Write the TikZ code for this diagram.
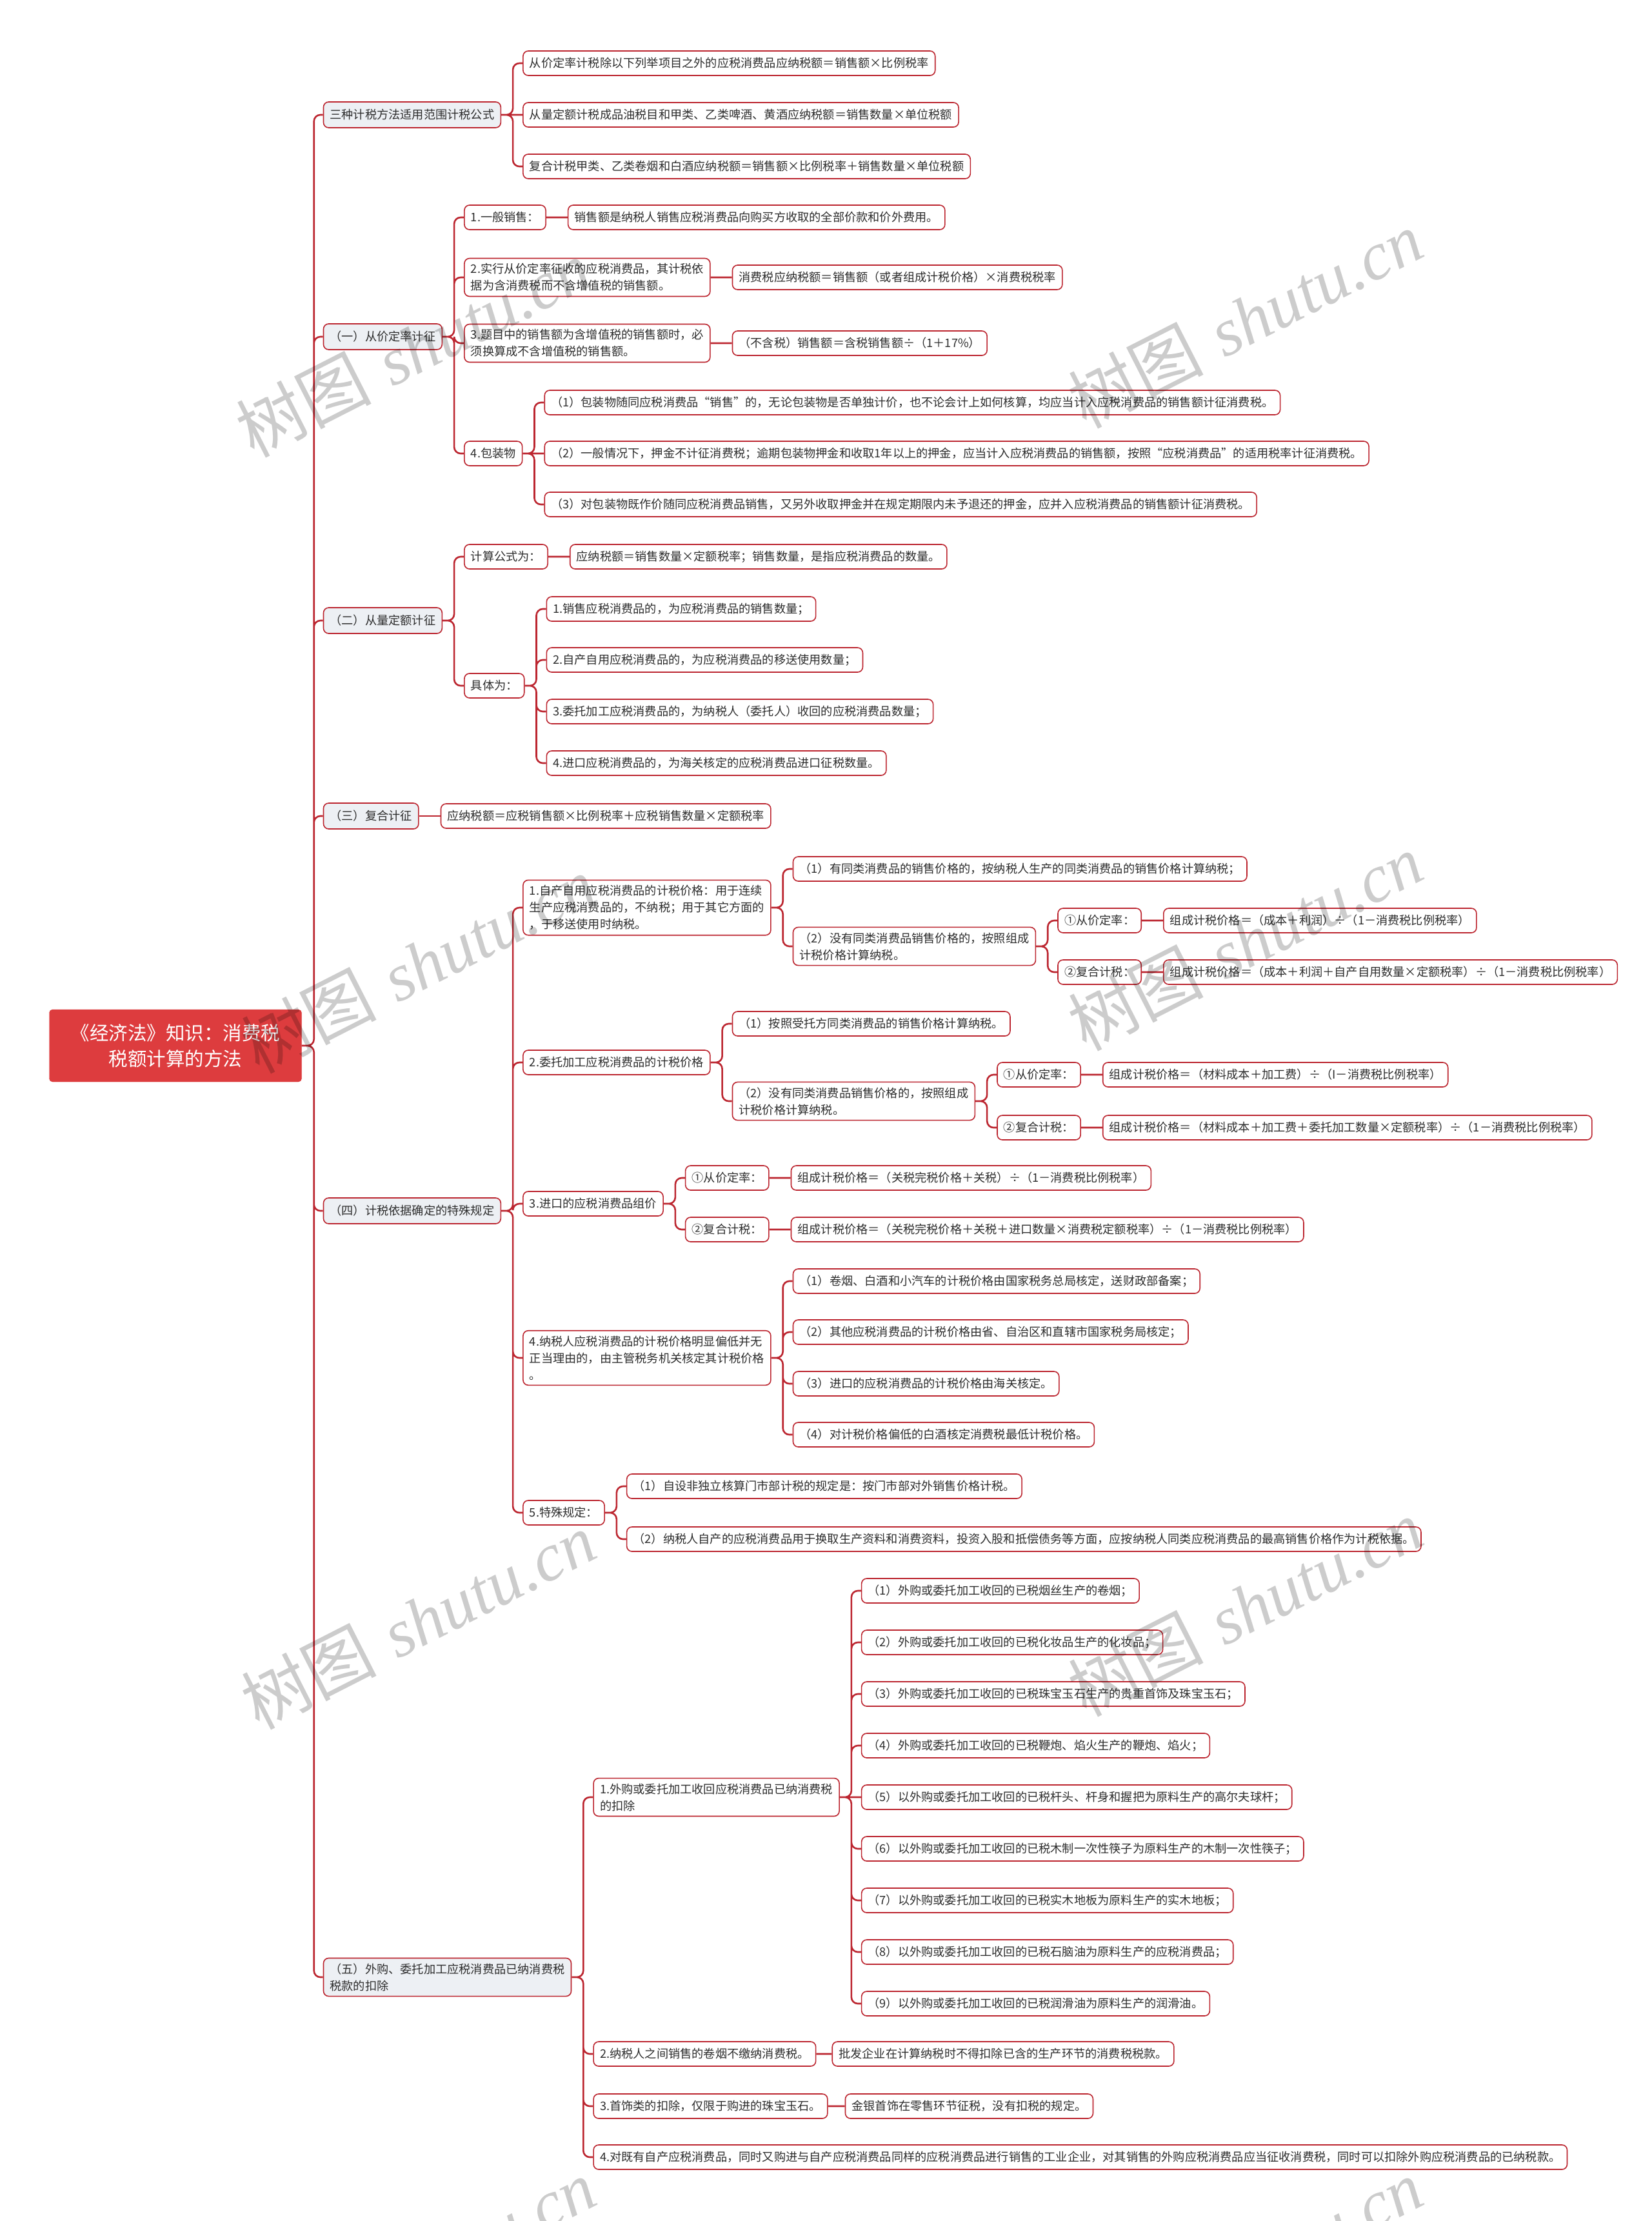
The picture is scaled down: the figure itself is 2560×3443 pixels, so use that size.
\documentclass[tikz,border=0pt]{standalone}
\usepackage{fontspec}
\usepackage{tikz}
\usetikzlibrary{positioning}

\newfontfamily\cjk{Noto Sans CJK SC}
\newfontfamily\wmfont{Liberation Serif}

\definecolor{branchred}{RGB}{188,38,48}
\definecolor{rootred}{RGB}{221,60,62}
\definecolor{topicgray}{RGB}{237,240,244}
\definecolor{textgray}{RGB}{45,45,45}

\begin{document}
\begin{tikzpicture}[
    x=1pt, y=-1pt,
    node distance=33pt,
    every node/.style={font=\cjk\fontsize{18.2}{26}\selectfont, text=textgray},
    root/.style={draw=rootred, fill=rootred, text=white, rounded corners=5pt, align=center,
        minimum width=391pt, minimum height=112pt, font=\cjk\fontsize{29.5}{40}\selectfont},
    topic/.style={draw=branchred, fill=topicgray, line width=1.6pt, rounded corners=8pt,
        align=left, inner xsep=10pt, inner ysep=8pt, minimum height=40pt},
    item/.style={draw=branchred, fill=white, line width=1.6pt, rounded corners=8pt,
        align=left, inner xsep=10pt, inner ysep=8pt, minimum height=38pt},
    link/.style={draw=branchred, line width=2.6pt, rounded corners=10pt},
    wmark/.style={text=black, text opacity=0.2, rotate=27, font=\fontsize{105}{105}\selectfont}
]
    \fill[white] (0,0) rectangle (2560,3443);
    \useasboundingbox (0,0) rectangle (2560,3443);

    % root and main branches
    \node[root] (law) at (272,1621) {《经济法》知识：消费税\\税额计算的方法};
    \node[topic, right=of law, yshift=1443pt] (formula) {三种计税方法适用范围计税公式};
    \node[topic, right=of law, yshift=1099pt] (advalorem) {（一）从价定率计征};
    \node[topic, right=of law, yshift=659pt] (specific) {（二）从量定额计征};
    \node[topic, right=of law, yshift=356pt] (compound) {（三）复合计征};
    \node[topic, right=of law, yshift=-256pt] (special) {（四）计税依据确定的特殊规定};
    \node[topic, right=of law, yshift=-1444pt] (deduct) {（五）外购、委托加工应税消费品已纳消费税\\税款的扣除};

    \draw[link] (law.east) -- ++(19,0) |- (formula.west)
        (law.east) -- ++(19,0) |- (advalorem.west)
        (law.east) -- ++(19,0) |- (specific.west)
        (law.east) -- ++(19,0) |- (compound.west)
        (law.east) -- ++(19,0) |- (special.west)
        (law.east) -- ++(19,0) |- (deduct.west);

    % three formulas
    \node[item, right=of formula, yshift=80pt] (fAd) {从价定率计税除以下列举项目之外的应税消费品应纳税额＝销售额×比例税率};
    \node[item, right=of formula] (fSp) {从量定额计税成品油税目和甲类、乙类啤酒、黄酒应纳税额＝销售数量×单位税额};
    \node[item, right=of formula, yshift=-80pt] (fCo) {复合计税甲类、乙类卷烟和白酒应纳税额＝销售额×比例税率＋销售数量×单位税额};
    \draw[link] (formula.east) -- ++(18,0) |- (fAd.west)
        (formula.east) -- ++(18,0) |- (fCo.west)
        (formula) -- (fSp);

    % (一)
    \node[item, right=of advalorem, yshift=185pt] (sale) {1.一般销售：};
    \node[item, right=of sale] (saleT) {销售额是纳税人销售应税消费品向购买方收取的全部价款和价外费用。};
    \node[item, right=of advalorem, yshift=92pt] (basis) {2.实行从价定率征收的应税消费品，其计税依\\据为含消费税而不含增值税的销售额。};
    \node[item, right=of basis] (basisT) {消费税应纳税额＝销售额（或者组成计税价格）×消费税税率};
    \node[item, right=of advalorem, yshift=-10pt] (gross) {3.题目中的销售额为含增值税的销售额时，必\\须换算成不含增值税的销售额。};
    \node[item, right=of gross] (grossT) {（不含税）销售额＝含税销售额÷（1＋17\%）};
    \node[item, right=of advalorem, yshift=-181pt] (pack) {4.包装物};
    \node[item, right=of pack, yshift=79pt] (packA) {（1）包装物随同应税消费品“销售”的，无论包装物是否单独计价，也不论会计上如何核算，均应当计入应税消费品的销售额计征消费税。};
    \node[item, right=of pack] (packB) {（2）一般情况下，押金不计征消费税；逾期包装物押金和收取1年以上的押金，应当计入应税消费品的销售额，按照“应税消费品”的适用税率计征消费税。};
    \node[item, right=of pack, yshift=-79pt] (packC) {（3）对包装物既作价随同应税消费品销售，又另外收取押金并在规定期限内未予退还的押金，应并入应税消费品的销售额计征消费税。};
    \draw[link] (advalorem.east) -- ++(18,0) |- (sale.west)
        (advalorem.east) -- ++(18,0) |- (basis.west)
        (advalorem.east) -- ++(18,0) |- (gross.west)
        (advalorem.east) -- ++(18,0) |- (pack.west)
        (sale) -- (saleT) (basis) -- (basisT) (gross) -- (grossT)
        (pack.east) -- ++(18,0) |- (packA.west)
        (pack.east) -- ++(18,0) |- (packC.west)
        (pack) -- (packB);

    % (二)
    \node[item, right=of specific, yshift=99pt] (calc) {计算公式为：};
    \node[item, right=of calc] (calcT) {应纳税额＝销售数量×定额税率；销售数量，是指应税消费品的数量。};
    \node[item, right=of specific, yshift=-101pt] (detail) {具体为：};
    \node[item, right=of detail, yshift=119pt] (detA) {1.销售应税消费品的，为应税消费品的销售数量；};
    \node[item, right=of detail, yshift=40pt] (detB) {2.自产自用应税消费品的，为应税消费品的移送使用数量；};
    \node[item, right=of detail, yshift=-40pt] (detC) {3.委托加工应税消费品的，为纳税人（委托人）收回的应税消费品数量；};
    \node[item, right=of detail, yshift=-120pt] (detD) {4.进口应税消费品的，为海关核定的应税消费品进口征税数量。};
    \draw[link] (specific.east) -- ++(18,0) |- (calc.west)
        (specific.east) -- ++(18,0) |- (detail.west)
        (calc) -- (calcT)
        (detail.east) -- ++(18,0) |- (detA.west)
        (detail.east) -- ++(18,0) |- (detB.west)
        (detail.east) -- ++(18,0) |- (detC.west)
        (detail.east) -- ++(18,0) |- (detD.west);

    % (三)
    \node[item, right=of compound] (compT) {应纳税额＝应税销售额×比例税率＋应税销售数量×定额税率};
    \draw[link] (compound) -- (compT);

    % (四)
    \node[item, right=of special, yshift=470pt] (self) {1.自产自用应税消费品的计税价格：用于连续\\生产应税消费品的，不纳税；用于其它方面的\\，于移送使用时纳税。};
    \node[item, right=of self, yshift=60pt] (selfA) {（1）有同类消费品的销售价格的，按纳税人生产的同类消费品的销售价格计算纳税；};
    \node[item, right=of self, yshift=-60pt] (selfB) {（2）没有同类消费品销售价格的，按照组成\\计税价格计算纳税。};
    \node[item, right=of selfB, yshift=40pt] (selfBa) {①从价定率：};
    \node[item, right=of selfBa] (selfBaT) {组成计税价格＝（成本＋利润）÷（1－消费税比例税率）};
    \node[item, right=of selfB, yshift=-40pt] (selfBb) {②复合计税：};
    \node[item, right=of selfBb] (selfBbT) {组成计税价格＝（成本＋利润＋自产自用数量×定额税率）÷（1－消费税比例税率）};

    \node[item, right=of special, yshift=230pt] (entr) {2.委托加工应税消费品的计税价格};
    \node[item, right=of entr, yshift=60pt] (entrA) {（1）按照受托方同类消费品的销售价格计算纳税。};
    \node[item, right=of entr, yshift=-60pt] (entrB) {（2）没有同类消费品销售价格的，按照组成\\计税价格计算纳税。};
    \node[item, right=of entrB, yshift=41pt] (entrBa) {①从价定率：};
    \node[item, right=of entrBa] (entrBaT) {组成计税价格＝（材料成本＋加工费）÷（I－消费税比例税率）};
    \node[item, right=of entrB, yshift=-41pt] (entrBb) {②复合计税：};
    \node[item, right=of entrBb] (entrBbT) {组成计税价格＝（材料成本＋加工费＋委托加工数量×定额税率）÷（1－消费税比例税率）};

    \node[item, right=of special, yshift=11pt] (imp) {3.进口的应税消费品组价};
    \node[item, right=of imp, yshift=40pt] (impA) {①从价定率：};
    \node[item, right=of impA] (impAT) {组成计税价格＝（关税完税价格＋关税）÷（1－消费税比例税率）};
    \node[item, right=of imp, yshift=-40pt] (impB) {②复合计税：};
    \node[item, right=of impB] (impBT) {组成计税价格＝（关税完税价格＋关税＋进口数量×消费税定额税率）÷（1－消费税比例税率）};

    \node[item, right=of special, yshift=-228pt] (low) {4.纳税人应税消费品的计税价格明显偏低并无\\正当理由的，由主管税务机关核定其计税价格\\。};
    \node[item, right=of low, yshift=119pt] (lowA) {（1）卷烟、白酒和小汽车的计税价格由国家税务总局核定，送财政部备案；};
    \node[item, right=of low, yshift=40pt] (lowB) {（2）其他应税消费品的计税价格由省、自治区和直辖市国家税务局核定；};
    \node[item, right=of low, yshift=-40pt] (lowC) {（3）进口的应税消费品的计税价格由海关核定。};
    \node[item, right=of low, yshift=-119pt] (lowD) {（4）对计税价格偏低的白酒核定消费税最低计税价格。};

    \node[item, right=of special, yshift=-468pt] (rule) {5.特殊规定：};
    \node[item, right=of rule, yshift=41pt] (ruleA) {（1）自设非独立核算门市部计税的规定是：按门市部对外销售价格计税。};
    \node[item, right=of rule, yshift=-41pt] (ruleB) {（2）纳税人自产的应税消费品用于换取生产资料和消费资料，投资入股和抵偿债务等方面，应按纳税人同类应税消费品的最高销售价格作为计税依据。};

    \draw[link] (special.east) -- ++(18,0) |- (self.west)
        (special.east) -- ++(18,0) |- (entr.west)
        (special.east) -- ++(18,0) |- (imp.west)
        (special.east) -- ++(18,0) |- (low.west)
        (special.east) -- ++(18,0) |- (rule.west)
        (self.east) -- ++(18,0) |- (selfA.west)
        (self.east) -- ++(18,0) |- (selfB.west)
        (selfB.east) -- ++(18,0) |- (selfBa.west)
        (selfB.east) -- ++(18,0) |- (selfBb.west)
        (selfBa) -- (selfBaT) (selfBb) -- (selfBbT)
        (entr.east) -- ++(18,0) |- (entrA.west)
        (entr.east) -- ++(18,0) |- (entrB.west)
        (entrB.east) -- ++(18,0) |- (entrBa.west)
        (entrB.east) -- ++(18,0) |- (entrBb.west)
        (entrBa) -- (entrBaT) (entrBb) -- (entrBbT)
        (imp.east) -- ++(18,0) |- (impA.west)
        (imp.east) -- ++(18,0) |- (impB.west)
        (impA) -- (impAT) (impB) -- (impBT)
        (low.east) -- ++(18,0) |- (lowA.west)
        (low.east) -- ++(18,0) |- (lowB.west)
        (low.east) -- ++(18,0) |- (lowC.west)
        (low.east) -- ++(18,0) |- (lowD.west)
        (rule.east) -- ++(18,0) |- (ruleA.west)
        (rule.east) -- ++(18,0) |- (ruleB.west);

    % (五)
    \node[item, right=of deduct, yshift=279pt] (buy) {1.外购或委托加工收回应税消费品已纳消费税\\的扣除};
    \node[item, right=of buy, yshift=320pt] (buyA) {（1）外购或委托加工收回的已税烟丝生产的卷烟；};
    \node[item, right=of buy, yshift=240pt] (buyB) {（2）外购或委托加工收回的已税化妆品生产的化妆品；};
    \node[item, right=of buy, yshift=160pt] (buyC) {（3）外购或委托加工收回的已税珠宝玉石生产的贵重首饰及珠宝玉石；};
    \node[item, right=of buy, yshift=80pt] (buyD) {（4）外购或委托加工收回的已税鞭炮、焰火生产的鞭炮、焰火；};
    \node[item, right=of buy] (buyE) {（5）以外购或委托加工收回的已税杆头、杆身和握把为原料生产的高尔夫球杆；};
    \node[item, right=of buy, yshift=-80pt] (buyF) {（6）以外购或委托加工收回的已税木制一次性筷子为原料生产的木制一次性筷子；};
    \node[item, right=of buy, yshift=-160pt] (buyG) {（7）以外购或委托加工收回的已税实木地板为原料生产的实木地板；};
    \node[item, right=of buy, yshift=-240pt] (buyH) {（8）以外购或委托加工收回的已税石脑油为原料生产的应税消费品；};
    \node[item, right=of buy, yshift=-320pt] (buyI) {（9）以外购或委托加工收回的已税润滑油为原料生产的润滑油。};
    \node[item, right=of deduct, yshift=-119pt] (cig) {2.纳税人之间销售的卷烟不缴纳消费税。};
    \node[item, right=24pt of cig] (cigT) {批发企业在计算纳税时不得扣除已含的生产环节的消费税税款。};
    \node[item, right=of deduct, yshift=-200pt] (jew) {3.首饰类的扣除，仅限于购进的珠宝玉石。};
    \node[item, right=26pt of jew] (jewT) {金银首饰在零售环节征税，没有扣税的规定。};
    \node[item, right=of deduct, yshift=-279pt] (ind) {4.对既有自产应税消费品，同时又购进与自产应税消费品同样的应税消费品进行销售的工业企业，对其销售的外购应税消费品应当征收消费税，同时可以扣除外购应税消费品的已纳税款。};

    \draw[link] (deduct.east) -- ++(18,0) |- (buy.west)
        (deduct.east) -- ++(18,0) |- (cig.west)
        (deduct.east) -- ++(18,0) |- (jew.west)
        (deduct.east) -- ++(18,0) |- (ind.west)
        (cig) -- (cigT) (jew) -- (jewT)
        (buy.east) -- ++(18,0) |- (buyA.west)
        (buy.east) -- ++(18,0) |- (buyB.west)
        (buy.east) -- ++(18,0) |- (buyC.west)
        (buy.east) -- ++(18,0) |- (buyD.west)
        (buy) -- (buyE)
        (buy.east) -- ++(18,0) |- (buyF.west)
        (buy.east) -- ++(18,0) |- (buyG.west)
        (buy.east) -- ++(18,0) |- (buyH.west)
        (buy.east) -- ++(18,0) |- (buyI.west);

    % watermark
    \node[wmark] (wmA) at (640,540) {{\cjk 树图} {\wmfont\itshape shutu.cn}};
    \node[wmark] (wmB) at (1930,495) {{\cjk 树图} {\wmfont\itshape shutu.cn}};
    \node[wmark] (wmC) at (648,1495) {{\cjk 树图} {\wmfont\itshape shutu.cn}};
    \node[wmark] (wmD) at (1930,1460) {{\cjk 树图} {\wmfont\itshape shutu.cn}};
    \node[wmark] (wmE) at (648,2512) {{\cjk 树图} {\wmfont\itshape shutu.cn}};
    \node[wmark] (wmF) at (1930,2492) {{\cjk 树图} {\wmfont\itshape shutu.cn}};
    \node[wmark] (wmG) at (648,3515) {{\cjk 树图} {\wmfont\itshape shutu.cn}};
    \node[wmark] (wmH) at (1930,3515) {{\cjk 树图} {\wmfont\itshape shutu.cn}};
\end{tikzpicture}
\end{document}
